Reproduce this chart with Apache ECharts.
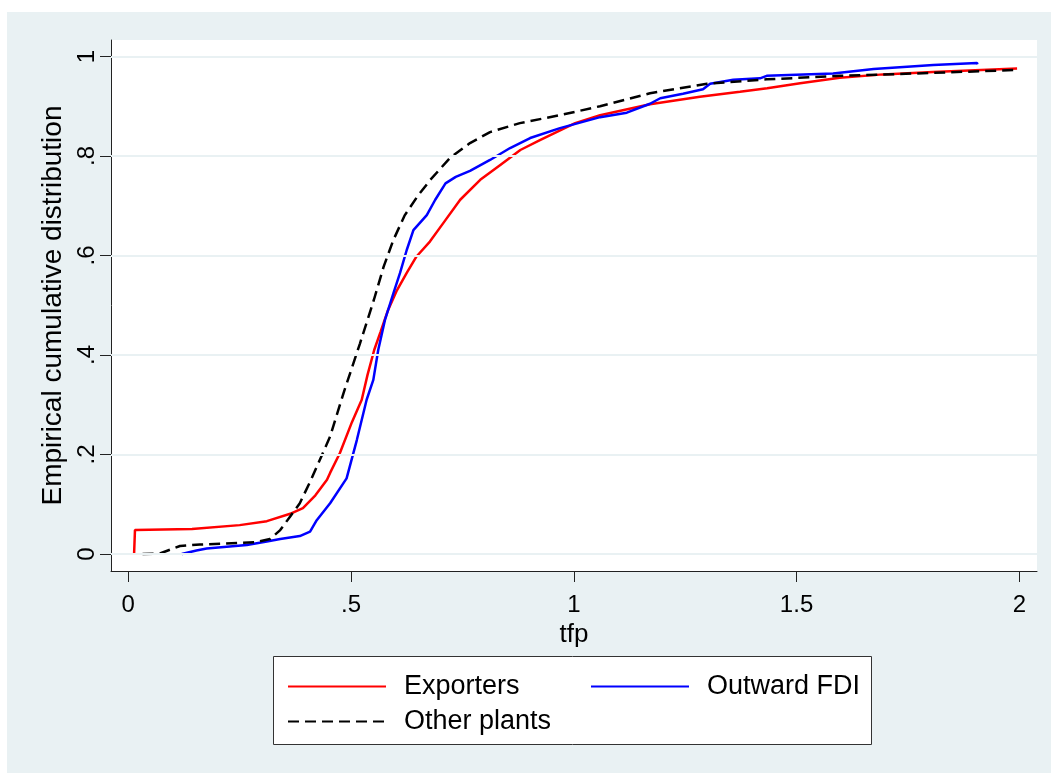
<!DOCTYPE html>
<html>
<head>
<meta charset="utf-8">
<script src="https://cdn.jsdelivr.net/npm/echarts@6/dist/echarts.min.js"></script>
<style>
html,body{margin:0;padding:0;background:#ffffff;}
#chart{width:1051px;height:773px;}
</style>
</head>
<body>
<div id="chart"></div>
<script>
// ---- data (x = tfp, y = empirical CDF) ----
var seriesNames = ["Exporters", "Outward FDI", "Other plants"];
var xTicks = [0, 0.5, 1, 1.5, 2];
var yTicks = [0, 0.2, 0.4, 0.6, 0.8, 1];

var exporters = [[0.013,0],[0.015,0.048],[0.143,0.050],[0.25,0.058],[0.311,0.066],[0.367,0.082],[0.392,0.092],[0.42,0.118],[0.446,0.149],[0.453,0.163],[0.475,0.203],[0.502,0.265],[0.524,0.31],[0.537,0.36],[0.552,0.41],[0.566,0.446],[0.583,0.49],[0.603,0.53],[0.625,0.565],[0.647,0.598],[0.677,0.628],[0.707,0.665],[0.745,0.712],[0.79,0.752],[0.835,0.782],[0.88,0.812],[0.924,0.832],[1.003,0.866],[1.059,0.882],[1.171,0.904],[1.283,0.919],[1.373,0.929],[1.434,0.936],[1.508,0.946],[1.597,0.957],[1.694,0.964],[1.806,0.969],[1.995,0.976]];

var outwardFDI = [[0.12,0],[0.153,0.007],[0.176,0.011],[0.266,0.018],[0.311,0.025],[0.341,0.03],[0.385,0.036],[0.408,0.045],[0.423,0.068],[0.453,0.102],[0.49,0.152],[0.513,0.229],[0.535,0.31],[0.55,0.35],[0.561,0.41],[0.576,0.47],[0.595,0.524],[0.61,0.565],[0.625,0.611],[0.64,0.651],[0.67,0.681],[0.689,0.712],[0.712,0.745],[0.735,0.758],[0.767,0.77],[0.812,0.792],[0.857,0.816],[0.902,0.836],[0.969,0.856],[1.059,0.878],[1.119,0.887],[1.171,0.905],[1.194,0.916],[1.245,0.925],[1.29,0.934],[1.306,0.945],[1.358,0.953],[1.418,0.956],[1.433,0.961],[1.582,0.966],[1.673,0.975],[1.807,0.983],[1.905,0.987],[1.906,0.984]];

var otherPlants = [[0.032,0],[0.071,0.001],[0.116,0.016],[0.161,0.019],[0.288,0.024],[0.318,0.03],[0.341,0.048],[0.363,0.075],[0.385,0.102],[0.408,0.145],[0.453,0.236],[0.483,0.323],[0.52,0.423],[0.551,0.51],[0.573,0.577],[0.595,0.631],[0.62,0.68],[0.65,0.72],[0.678,0.752],[0.722,0.796],[0.767,0.826],[0.812,0.848],[0.879,0.866],[0.969,0.882],[1.059,0.9],[1.171,0.926],[1.299,0.945],[1.433,0.954],[1.598,0.961],[1.806,0.967],[1.998,0.973]];

// ---- chart ----
var BG = '#e9f1f3';
var FONT = 'Liberation Sans, Arial, sans-serif';
function fmt(v){ if (v === 0) return '0'; return String(v).replace(/^0\./, '.'); }

var chart = echarts.init(document.getElementById('chart'), null, {renderer:'canvas'});

var legendBase = {
  orient: 'horizontal',
  itemWidth: 98,
  itemHeight: 14,
  padding: 0,
  selectedMode: false,
  itemStyle: {opacity: 0},
  textStyle: {fontFamily: FONT, fontSize: 27, color: '#000', padding: [0,0,0,13]}
};

chart.setOption({
  backgroundColor: '#ffffff',
  animation: false,
  graphic: [
    {type:'rect', z:-10, shape:{x:7, y:12, width:1044, height:761}, style:{fill:BG}, silent:true},
    {type:'rect', z:-5, shape:{x:273.5, y:656.5, width:598, height:88}, style:{fill:'#ffffff', stroke:'#333', lineWidth:1}, silent:true}
  ],
  grid: {left:111, right:14, top:40, bottom:202, show:true, backgroundColor:'#ffffff', borderWidth:0},
  xAxis: {
    type:'value', min:-0.0388, max:2.0397,
    name:'tfp', nameLocation:'middle', nameGap:46,
    nameTextStyle:{fontFamily:FONT, fontSize:26, color:'#000'},
    axisLine:{show:true, onZero:false, lineStyle:{color:'#222', width:1}},
    axisTick:{show:true, length:11, customValues:xTicks, lineStyle:{color:'#222'}},
    axisLabel:{fontFamily:FONT, fontSize:24, color:'#000', margin:22, customValues:xTicks, formatter:fmt},
    splitLine:{show:false}
  },
  yAxis: {
    type:'value', min:-0.0342, max:1.0331,
    name:'Empirical cumulative distribution', nameLocation:'middle', nameGap:43, nameRotate:90,
    nameTextStyle:{fontFamily:FONT, fontSize:28, color:'#000'},
    axisLine:{show:true, onZero:false, lineStyle:{color:'#222', width:1}},
    axisTick:{show:true, length:11, customValues:yTicks, lineStyle:{color:'#222'}},
    axisLabel:{fontFamily:FONT, fontSize:24, color:'#000', margin:12, rotate:90, customValues:yTicks, formatter:fmt},
    splitLine:{show:false}
  },
  legend: [
    Object.assign({}, legendBase, {left:287, top:673, data:[seriesNames[0]]}),
    Object.assign({}, legendBase, {left:590, top:673, data:[seriesNames[1]]}),
    Object.assign({}, legendBase, {left:287, top:708, data:[seriesNames[2]]})
  ],
  series: [
    {
      type:'line', name:'grid', data:[], silent:true, z:1,
      markLine:{silent:true, symbol:['none','none'], label:{show:false},
        lineStyle:{color:BG, width:2, type:'solid'},
        data: yTicks.map(function(v){ return {yAxis:v}; })}
    },
    {type:'line', name:seriesNames[0], data:exporters, showSymbol:false, symbol:'none', z:3,
      lineStyle:{color:'#ff0000', width:2.5}, itemStyle:{color:'#ff0000'}},
    {type:'line', name:seriesNames[1], data:outwardFDI, showSymbol:false, symbol:'none', z:3,
      lineStyle:{color:'#0000ff', width:2.5}, itemStyle:{color:'#0000ff'}},
    {type:'line', name:seriesNames[2], data:otherPlants, showSymbol:false, symbol:'none', z:4,
      lineStyle:{color:'#000000', width:2.5, type:[11,6]}, itemStyle:{color:'#000000'}}
  ]
});
</script>
</body>
</html>
